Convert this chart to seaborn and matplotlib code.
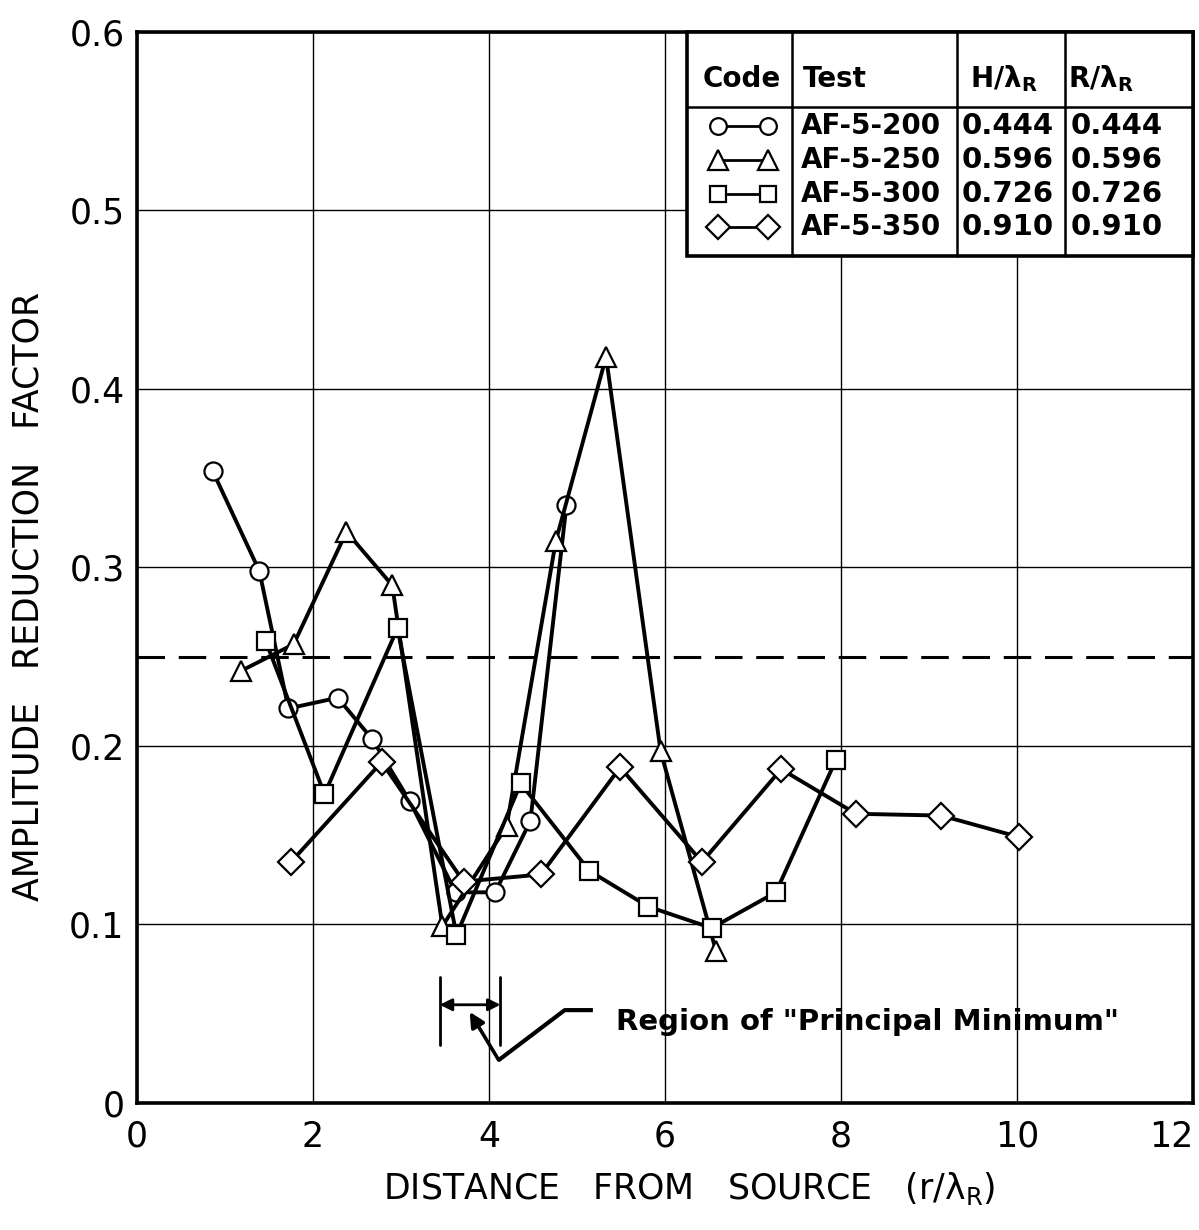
#!/usr/bin/env python3
"""
Amplitude reduction factor vs distance from source (tests AF-5-200 .. AF-5-350)
"""

import matplotlib
matplotlib.use('Agg')
import matplotlib.pyplot as plt
import matplotlib.transforms as mtransforms
import numpy as np
import pandas as pd
import seaborn as sns

# Data
x_200 = [0.86, 1.39, 1.72, 2.28, 2.67, 3.10, 3.62, 4.07, 4.47, 4.88]
y_200 = [0.354, 0.298, 0.221, 0.227, 0.204, 0.169, 0.118, 0.118, 0.158, 0.335]

x_250 = [1.18, 1.78, 2.38, 2.90, 3.47, 4.20, 4.76, 5.33, 5.95, 6.58]
y_250 = [0.242, 0.257, 0.320, 0.290, 0.099, 0.155, 0.315, 0.418, 0.197, 0.085]

x_300 = [1.46, 2.13, 2.96, 3.63, 4.36, 5.14, 5.81, 6.53, 7.26, 7.94]
y_300 = [0.259, 0.173, 0.266, 0.094, 0.179, 0.130, 0.110, 0.098, 0.118, 0.192]

x_350 = [1.75, 2.78, 3.71, 4.59, 5.49, 6.42, 7.32, 8.17, 9.14, 10.02]
y_350 = [0.135, 0.191, 0.124, 0.128, 0.188, 0.135, 0.187, 0.162, 0.161, 0.149]

tests = ['AF-5-200', 'AF-5-250', 'AF-5-300', 'AF-5-350']
markers = ['o', '^', 's', 'D']
h_ratio = ['0.444', '0.596', '0.726', '0.910']
r_ratio = ['0.444', '0.596', '0.726', '0.910']

x_ticks = [0, 2, 4, 6, 8, 10, 12]
y_ticks = [0, 0.1, 0.2, 0.3, 0.4, 0.5, 0.6]
y_tick_labels = ['0', '0.1', '0.2', '0.3', '0.4', '0.5', '0.6']

reference_level = 0.25

# "Principal minimum" region annotation
region_x = [3.44, 4.13]
region_bar_y = [0.0325, 0.0707]
region_arrow_y = 0.055
leader_x = [5.18, 4.86, 4.11]
leader_y = [0.052, 0.052, 0.024]
leader_tip = (3.78, 0.051)

series = [(x_200, y_200), (x_250, y_250), (x_300, y_300), (x_350, y_350)]
marker_sizes = [13, 15, 13, 13]

sns.set_style('white')
plt.rcParams['font.family'] = ['DejaVu Sans']
plt.rcParams['mathtext.default'] = 'regular'
for key in ['text.color', 'axes.labelcolor', 'xtick.color', 'ytick.color']:
    plt.rcParams[key] = 'black'

fig = plt.figure(figsize=(11.99, 12.30), dpi=100)
ax = fig.add_axes([0.1143, 0.1033, 0.8807, 0.8707])

for (xs, ys), name, m, ms in zip(series, tests, markers, marker_sizes):
    df = pd.DataFrame({'x': xs, 'y': ys})
    sns.lineplot(data=df, x='x', y='y', sort=False, estimator=None, ax=ax,
                 color='black', linewidth=2.8, marker=m, markersize=ms,
                 markerfacecolor='white', markeredgecolor='black',
                 markeredgewidth=1.6, label=name, legend=False)

ax.axhline(reference_level, color='black', linewidth=2.2, linestyle=(0, (9, 4.5)))

ax.set_xlim(0, 12)
ax.set_ylim(0, 0.6)
ax.set_xticks(x_ticks)
ax.set_xticklabels([str(t) for t in x_ticks])
ax.set_yticks(y_ticks)
ax.set_yticklabels(y_tick_labels)
ax.tick_params(axis='both', length=0, labelsize=25)
ax.tick_params(axis='x', pad=12)
ax.tick_params(axis='y', pad=9)
ax.grid(True, color='black', linewidth=1.0)
for sp in ax.spines.values():
    sp.set_visible(True)
    sp.set_color('black')
    sp.set_linewidth(2.6)

# pull the last x tick label inside the figure
last = ax.get_xticklabels()[-1]
last.set_transform(last.get_transform() +
                   mtransforms.ScaledTranslation(-0.22, 0, fig.dpi_scale_trans))

ax.set_xlabel('DISTANCE   FROM   SOURCE   (r/λ$_{R}$)', fontsize=25)
ax.set_ylabel('AMPLITUDE   REDUCTION   FACTOR', fontsize=25)
ax.xaxis.set_label_coords(0.523, -0.063)
ax.yaxis.set_label_coords(-0.103, 0.473)
ax.yaxis.label.set_va('center')

# principal minimum annotation
for xb in region_x:
    ax.plot([xb, xb], region_bar_y, color='black', linewidth=2.0)
ax.annotate('', xy=(region_x[0], region_arrow_y), xytext=(region_x[1], region_arrow_y),
            arrowprops=dict(arrowstyle='<|-|>', color='black', lw=2.0,
                            shrinkA=0, shrinkB=0, mutation_scale=18))
ax.plot(leader_x, leader_y, color='black', linewidth=3.0, solid_capstyle='butt')
ax.annotate('', xy=leader_tip, xytext=(leader_x[-1], leader_y[-1]),
            arrowprops=dict(arrowstyle='-|>', color='black', lw=2.6,
                            shrinkA=0, shrinkB=0, mutation_scale=22))
ax.text(5.44, 0.0455, 'Region of "Principal Minimum"', fontsize=21,
        fontweight='bold', va='center', ha='left')


# legend table, drawn in axes fractions
def fx(px):
    return (px - 137) / 1056.0


def fy(py):
    return (1103 - py) / 1070.0


tbl_left, tbl_right, tbl_top, tbl_head, tbl_bottom = 687, 1193, 33, 108, 257
col_edges = [792, 957, 1065]
row_y = [127, 161, 195, 228]

ax.add_patch(plt.Rectangle((fx(tbl_left), fy(tbl_bottom)), fx(tbl_right) - fx(tbl_left),
                           fy(tbl_top) - fy(tbl_bottom), transform=ax.transAxes,
                           facecolor='white', edgecolor='black', linewidth=2.6,
                           zorder=5, clip_on=False))
ax.plot([fx(tbl_left), fx(tbl_right)], [fy(tbl_head)] * 2, transform=ax.transAxes,
        color='black', linewidth=1.8, zorder=6)
for c in col_edges:
    ax.plot([fx(c), fx(c)], [fy(tbl_top), fy(tbl_bottom)], transform=ax.transAxes,
            color='black', linewidth=1.8, zorder=6)

head_y = fy(80)
ax.text(fx(742), head_y, 'Code', transform=ax.transAxes, fontsize=20, fontweight='bold',
        ha='center', va='center', zorder=7)
ax.text(fx(803), head_y, 'Test', transform=ax.transAxes, fontsize=20, fontweight='bold',
        ha='left', va='center', zorder=7)
ax.text(fx(970), head_y, 'H/λ$_{R}$', transform=ax.transAxes, fontsize=20,
        fontweight='bold', ha='left', va='center', zorder=7)
ax.text(fx(1068), head_y, 'R/λ$_{R}$', transform=ax.transAxes, fontsize=20,
        fontweight='bold', ha='left', va='center', zorder=7)

for ry, name, m, ms, h, r in zip(row_y, tests, markers, marker_sizes, h_ratio, r_ratio):
    yy = fy(ry)
    ax.plot([fx(718), fx(768)], [yy, yy], transform=ax.transAxes, color='black',
            linewidth=2.0, marker=m, markersize=ms - 1, markerfacecolor='white',
            markeredgecolor='black', markeredgewidth=1.6, zorder=7, clip_on=False)
    ax.text(fx(801), yy, name, transform=ax.transAxes, fontsize=20, fontweight='bold',
            ha='left', va='center', zorder=7)
    ax.text(fx(1008), yy, h, transform=ax.transAxes, fontsize=21, fontweight='bold',
            ha='center', va='center', zorder=7)
    ax.text(fx(1117), yy, r, transform=ax.transAxes, fontsize=21, fontweight='bold',
            ha='center', va='center', zorder=7)

fig.savefig('out.png', dpi=100)
